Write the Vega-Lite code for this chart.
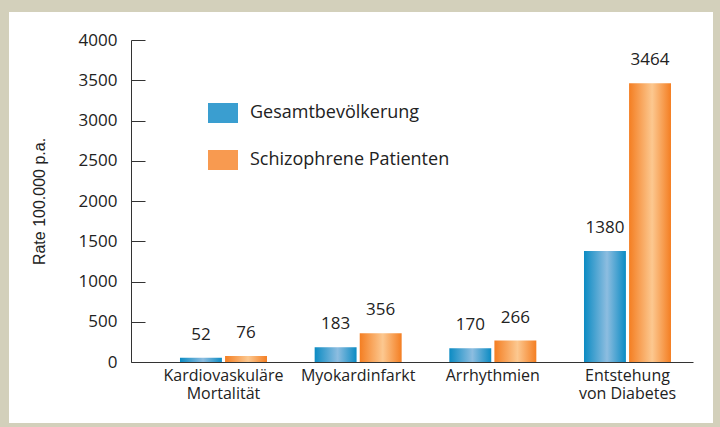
{
  "$schema": "https://vega.github.io/schema/vega-lite/v6.json",
  "width": 704,
  "height": 411,
  "autosize": {"type": "none"},
  "padding": {"left": 9, "top": 12, "right": 7, "bottom": 4},
  "background": "#d3d0bb",
  "config": {"view": {"fill": "#ffffff", "stroke": null}, "font": "Open Sans"},
  "data": {
    "values": [
      {"category": "Kardiovaskuläre\nMortalität", "series": "Gesamtbevölkerung", "value": 52},
      {"category": "Kardiovaskuläre\nMortalität", "series": "Schizophrene Patienten", "value": 76},
      {"category": "Myokardinfarkt", "series": "Gesamtbevölkerung", "value": 183},
      {"category": "Myokardinfarkt", "series": "Schizophrene Patienten", "value": 356},
      {"category": "Arrhythmien", "series": "Gesamtbevölkerung", "value": 170},
      {"category": "Arrhythmien", "series": "Schizophrene Patienten", "value": 266},
      {"category": "Entstehung\nvon Diabetes", "series": "Gesamtbevölkerung", "value": 1380},
      {"category": "Entstehung\nvon Diabetes", "series": "Schizophrene Patienten", "value": 3464}
    ]
  },
  "encoding": {
    "x": {
      "field": "category", "type": "nominal", "sort": null,
      "scale": {"range": [122, 684], "paddingInner": 0.354, "paddingOuter": 0.2636, "align": 0.69},
      "axis": {
        "title": null, "orient": "bottom", "offset": -61, "ticks": false, "labelAngle": 0,
        "labelPadding": 5, "labelFontSize": 16, "labelColor": "#222", "labelLineHeight": 18,
        "labelBaseline": "top", "labelExpr": "split(datum.label, '\\n')", "domainColor": "#333"
      }
    },
    "xOffset": {
      "field": "series", "type": "nominal", "sort": null,
      "scale": {"domain": ["Gesamtbevölkerung", "Schizophrene Patienten"], "paddingInner": 0.07, "paddingOuter": 0}
    },
    "y": {
      "field": "value", "type": "quantitative",
      "scale": {"domain": [0, 4000], "range": [350, 28], "nice": false},
      "axis": {
        "title": "Rate 100.000 p.a.", "offset": -122, "format": "d",
        "values": [0, 500, 1000, 1500, 2000, 2500, 3000, 3500, 4000],
        "tickSize": -14, "labelPadding": 28, "labelFontSize": 17, "labelColor": "#222",
        "grid": false, "domainColor": "#333", "tickColor": "#333",
        "titleFont": "Liberation Sans", "titleFontSize": 16, "titleFontWeight": "normal",
        "titleColor": "#222", "titleX": -92, "titleBaseline": "middle", "labelFlush": false
      }
    }
  },
  "layer": [
    {
      "transform": [{"filter": "datum.series === 'Gesamtbevölkerung'"}],
      "mark": {"type": "bar",
        "color": {"gradient": "linear", "x1": 0, "y1": 0, "x2": 1, "y2": 0,
          "stops": [{"offset": 0, "color": "#0b8bc3"}, {"offset": 0.55, "color": "#8dbde0"}, {"offset": 1, "color": "#0b8bc3"}]}}
    },
    {
      "transform": [{"filter": "datum.series === 'Schizophrene Patienten'"}],
      "mark": {"type": "bar",
        "color": {"gradient": "linear", "x1": 0, "y1": 0, "x2": 1, "y2": 0,
          "stops": [{"offset": 0, "color": "#f47e22"}, {"offset": 0.55, "color": "#fcc890"}, {"offset": 1, "color": "#f47e22"}]}}
    },
    {
      "mark": {"type": "bar", "opacity": 0},
      "encoding": {
        "color": {
          "field": "series", "type": "nominal",
          "scale": {"domain": ["Gesamtbevölkerung", "Schizophrene Patienten"], "range": ["#3a9ed0", "#f89a50"]},
          "legend": {
            "orient": "none", "legendX": 199, "legendY": 86, "title": null,
            "symbolType": "M-1,-0.667H1V0.667H-1Z", "symbolSize": 900, "symbolOpacity": 1,
            "rowPadding": 21, "labelOffset": 12, "labelFontSize": 18, "labelColor": "#222",
            "labelLimit": 400, "padding": 0, "symbolStrokeWidth": 0,
            "encode": {"symbols": {"update": {
              "fill": {"signal": "datum.value === 'Gesamtbevölkerung' ? {gradient: 'linear', x1: 0, y1: 0, x2: 1, y2: 0, stops: [{offset: 0, color: '#0b8bc3'}, {offset: 0.55, color: '#8dbde0'}, {offset: 1, color: '#0b8bc3'}]} : {gradient: 'linear', x1: 0, y1: 0, x2: 1, y2: 0, stops: [{offset: 0, color: '#f47e22'}, {offset: 0.55, color: '#fcc890'}, {offset: 1, color: '#f47e22'}]}"}
            }}}
          }
        }
      }
    },
    {
      "mark": {"type": "text", "dy": -23, "fontSize": 17, "color": "#222", "baseline": "middle"},
      "encoding": {"text": {"field": "value", "type": "quantitative"}}
    }
  ]
}
